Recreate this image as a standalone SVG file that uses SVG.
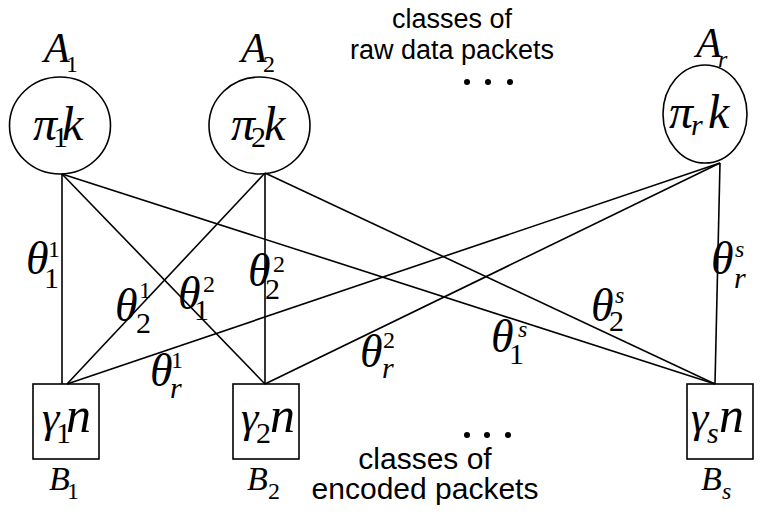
<svg xmlns="http://www.w3.org/2000/svg" width="762" height="515" viewBox="0 0 762 515">
<style>
.node{fill:none;stroke:#000;stroke-width:1.6}
.edge{stroke:#000;stroke-width:1.6;fill:none}
.m{font-family:"Liberation Serif","DejaVu Serif","Times New Roman",serif;font-style:italic;fill:#000}
.u{font-style:normal}
.i{font-style:italic}
.big{font-size:48px}
.nn{font-size:50px}
.gm{font-size:44px}
.th{font-size:46px}
.lab{font-size:42px}
.sub{font-size:30px}
.sup{font-size:24px}
.bl{font-size:34px}
.bsub{font-size:24px}
.cap{font-family:"Liberation Sans",Arial,sans-serif;fill:#000;text-anchor:middle}
.ct{font-size:27px}
.cb{font-size:30px}
</style>
<rect width="762" height="515" fill="#fff"/>
<g id="connectors">
<line class="edge" x1="62" y1="174" x2="62" y2="384"/>
<line class="edge" x1="62" y1="174" x2="265" y2="384"/>
<line class="edge" x1="62" y1="174" x2="715" y2="384"/>
<line class="edge" x1="265" y1="173" x2="67" y2="384"/>
<line class="edge" x1="265" y1="173" x2="265" y2="384"/>
<line class="edge" x1="265" y1="173" x2="715" y2="384"/>
<line class="edge" x1="720" y1="163" x2="67" y2="384"/>
<line class="edge" x1="720" y1="163" x2="265" y2="384"/>
<line class="edge" x1="720" y1="163" x2="715" y2="384"/>
</g>
<g id="edge-labels">
<text class="m th" x="26" y="274">θ<tspan class="u sup" x="48" y="257">1</tspan><tspan class="u sub" x="44" y="288">1</tspan></text>
<text class="m th" x="115" y="321">θ<tspan class="u sup" x="139" y="298">1</tspan><tspan class="u sub" x="136" y="333">2</tspan></text>
<text class="m th" x="178" y="309">θ<tspan class="u sup" x="203" y="292">2</tspan><tspan class="u sub" x="194" y="320">1</tspan></text>
<text class="m th" x="248" y="286">θ<tspan class="u sup" x="273" y="272">2</tspan><tspan class="u sub" x="265" y="299">2</tspan></text>
<text class="m th" x="150" y="386">θ<tspan class="u sup" x="171" y="368">1</tspan><tspan class="i sub" x="170" y="398">r</tspan></text>
<text class="m th" x="360" y="367">θ<tspan class="u sup" x="383" y="348">2</tspan><tspan class="i sub" x="382" y="378">r</tspan></text>
<text class="m th" x="491" y="352">θ<tspan class="i sup" x="518" y="337">s</tspan><tspan class="u sub" x="509" y="364">1</tspan></text>
<text class="m th" x="591" y="321">θ<tspan class="i sup" x="615" y="303">s</tspan><tspan class="u sub" x="609" y="331">2</tspan></text>
<text class="m th" x="711" y="274">θ<tspan class="i sup" x="735" y="257">s</tspan><tspan class="i sub" x="734" y="288">r</tspan></text>
</g>
<g id="A1">
<ellipse class="node" cx="60" cy="125.5" rx="50.5" ry="48.5"/>
<text class="m lab" x="44" y="62">A<tspan class="u bsub" x="66" y="72">1</tspan></text>
<text class="m big" x="33" y="140">π<tspan class="u sub" x="53" y="147">1</tspan><tspan x="62" y="140">k</tspan></text>
</g>
<g id="A2">
<ellipse class="node" cx="259.5" cy="125.5" rx="50.5" ry="48.5"/>
<text class="m lab" x="241" y="62">A<tspan class="u bsub" x="263" y="72">2</tspan></text>
<text class="m big" x="231" y="140">π<tspan class="u sub" x="251" y="147">2</tspan><tspan x="264" y="140">k</tspan></text>
</g>
<g id="Ar">
<ellipse class="node" cx="705" cy="114" rx="42" ry="49"/>
<text class="m lab" x="696" y="57">A<tspan class="i bsub" x="718" y="67">r</tspan></text>
<text class="m big" x="669" y="128">π<tspan class="i sub" x="691" y="135">r</tspan><tspan x="708" y="128">k</tspan></text>
</g>
<g id="B1">
<rect class="node" x="33" y="384" width="66" height="75"/>
<text class="m gm" x="42" y="432">γ<tspan class="u sub" x="56" y="443">1</tspan><tspan class="nn" x="66" y="432">n</tspan></text>
<text class="m bl" x="49" y="490">B<tspan class="u bsub" x="67" y="499">1</tspan></text>
</g>
<g id="B2">
<rect class="node" x="233" y="384" width="66" height="75"/>
<text class="m gm" x="241" y="432">γ<tspan class="u sub" x="256" y="443">2</tspan><tspan class="nn" x="270" y="432">n</tspan></text>
<text class="m bl" x="247" y="490">B<tspan class="u bsub" x="268" y="499">2</tspan></text>
</g>
<g id="Bs">
<rect class="node" x="687" y="384" width="66" height="75"/>
<text class="m gm" x="691" y="432">γ<tspan class="i sub" x="707" y="443">s</tspan><tspan class="nn" x="719" y="432">n</tspan></text>
<text class="m bl" x="701" y="490">B<tspan class="i bsub" x="722" y="499">s</tspan></text>
</g>
<g id="captions">
<text class="cap ct" x="452" y="28">classes of</text>
<text class="cap ct" x="452" y="59">raw data packets</text>
<circle cx="467" cy="82" r="3"/><circle cx="488" cy="82" r="3"/><circle cx="510" cy="82" r="3"/>
<text class="cap cb" x="425" y="469">classes of</text>
<text class="cap cb" x="425" y="499">encoded packets</text>
<circle cx="467" cy="435" r="3"/><circle cx="487" cy="435" r="3"/><circle cx="508" cy="435" r="3"/>
</g>
</svg>
